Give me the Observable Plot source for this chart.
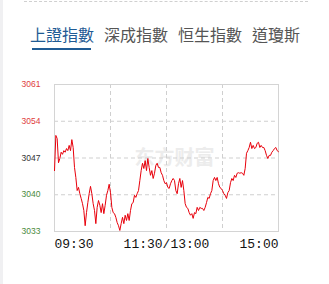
<!DOCTYPE html>
<html>
<head>
<meta charset="utf-8">
<script src="https://cdn.jsdelivr.net/npm/d3@7"></script>
<script src="https://cdn.jsdelivr.net/npm/@observablehq/plot@0.6"></script>
<style>
  html, body { margin: 0; padding: 0; background: #fff; width: 329px; height: 284px; overflow: hidden; position: relative; }
  #strip { position: absolute; left: 0; top: 0; width: 3px; height: 284px; background: #f0f0f2; }
  #topline { position: absolute; left: 24px; top: 1px; width: 284px; border-top: 1px dashed #d0d0d0; }
  #tabs { position: absolute; left: 30px; top: 22px; font-family: "Noto Sans CJK TC", "Noto Sans CJK SC", sans-serif; font-size: 16px; white-space: nowrap; }
  #tabs span { display: inline-block; margin-right: 10px; color: #555; line-height: 22px; }
  #tabs span.active { color: #1f5b94; position: relative; }
  #tabs span.active::after { content: ""; position: absolute; left: 2px; right: 3px; top: 25px; height: 2px; background: #1f5b94; }
  #chart { position: absolute; left: 0; top: 70px; }
</style>
</head>
<body>
<div id="strip"></div>
<div id="topline"></div>
<div id="tabs"></div>
<div id="chart"></div>
<script>
const tabNames = ["上證指數", "深成指數", "恒生指數", "道瓊斯"];
const yTicks = [3033, 3040, 3047, 3054, 3061];
const yTickColors = ["#4a8a3c", "#4a8a3c", "#333333", "#e03c3c", "#e03c3c"];
const xTickMinutes = [0, 120, 240];
const xTickLabels = ["09:30", "11:30/13:00", "15:00"];
const watermark = "东方财富";
// index level, roughly one reading per ~1.4 trading minutes from 09:30 to 15:00
const prices = [
  3044.6, 3051.3, 3050.7, 3046.1, 3046.9, 3048.1, 3047.7, 3048.4, 3048.1, 3048.8,
  3048.4, 3049.4, 3048.4, 3050.5, 3049.0, 3045.2, 3043.3, 3040.8, 3041.4, 3040.2,
  3039.3, 3038.3, 3037.0, 3034.1, 3036.6, 3038.5, 3040.2, 3041.6, 3040.2, 3038.3,
  3037.0, 3034.5, 3037.6, 3038.9, 3038.0, 3036.6, 3038.3, 3036.4, 3038.0, 3039.9,
  3040.8, 3042.0, 3040.4, 3037.6, 3036.6, 3036.4, 3035.7, 3034.7, 3034.1, 3033.2,
  3034.5, 3035.7, 3034.5, 3036.1, 3035.1, 3036.4, 3035.1, 3037.0, 3038.3, 3038.5,
  3039.9, 3039.5, 3040.2, 3040.8, 3042.7, 3044.6, 3046.0, 3045.0, 3046.5, 3044.6,
  3046.9, 3045.2, 3043.7, 3044.6, 3043.1, 3044.1, 3045.6, 3046.0, 3045.2, 3045.2,
  3044.2, 3043.7, 3042.7, 3042.1, 3042.3, 3041.4, 3041.2, 3042.1, 3042.7, 3043.1,
  3042.7, 3040.8, 3040.2, 3042.1, 3043.1, 3041.4, 3042.7, 3040.8, 3038.3, 3037.6,
  3037.4, 3036.6, 3036.1, 3036.4, 3035.5, 3036.6, 3036.4, 3037.6, 3037.0, 3037.6,
  3037.4, 3037.4, 3037.0, 3037.6, 3038.5, 3039.5, 3039.3, 3040.2, 3040.8, 3042.7,
  3043.3, 3042.7, 3043.3, 3042.1, 3041.4, 3041.2, 3040.8, 3040.2, 3039.9, 3039.3,
  3040.4, 3040.8, 3042.3, 3043.1, 3042.7, 3043.7, 3043.3, 3044.1, 3044.2, 3044.1,
  3044.2, 3044.1, 3043.7, 3045.0, 3047.9, 3048.4, 3049.0, 3050.0, 3048.8, 3049.4,
  3048.8, 3049.0, 3049.8, 3050.0, 3049.0, 3049.4, 3049.0, 3049.0, 3048.4, 3047.5,
  3046.9, 3047.5, 3047.5, 3048.1, 3048.4, 3048.8, 3049.0, 3048.4, 3048.2
];
const series = prices.map((v, i) => ({minute: i * 240 / (prices.length - 1), price: v}));
const xTicks = xTickMinutes.map((m, i) => ({minute: m, label: xTickLabels[i]}));
const yTickData = yTicks.map((v, i) => ({v, color: yTickColors[i]}));

const tabs = document.getElementById("tabs");
tabNames.forEach((n, i) => {
  const s = document.createElement("span");
  s.textContent = n;
  if (i === 0) s.className = "active";
  tabs.appendChild(s);
});

const xFont = {fontFamily: "'Liberation Mono', 'DejaVu Sans Mono', monospace", fontSize: 13, fill: "#111"};
const chart = Plot.plot({
  width: 329,
  height: 190,
  marginLeft: 54,
  marginRight: 51,
  marginTop: 14,
  marginBottom: 29,
  style: {background: "transparent", overflow: "visible"},
  x: {domain: [0, 240], axis: null},
  y: {domain: [3033, 3061], axis: null},
  marks: [
    Plot.text([watermark], {frameAnchor: "middle", dx: 8, dy: 1, fontSize: 20, fontWeight: "bold", fill: "#ececec", fontFamily: "'Noto Sans CJK SC', sans-serif"}),
    Plot.ruleX(xTickMinutes.slice(1, 2).concat([60, 180]), {stroke: "#cfcfcf", strokeDasharray: "4,3"}),
    Plot.ruleY(yTicks.slice(1, 4), {stroke: "#cfcfcf", strokeDasharray: "4,3"}),
    Plot.frame({stroke: "#d4d4d4"}),
    Plot.line(series, {x: "minute", y: "price", stroke: "#e8000b", strokeWidth: 1}),
    Plot.text(yTickData, {y: "v", text: d => String(d.v), fill: "color", frameAnchor: "left", dx: -14, textAnchor: "end", fontSize: 8.5, fontFamily: "'Liberation Sans', Arial, sans-serif"}),
    Plot.text(xTicks.filter((d, i) => i === 0), {x: "minute", text: "label", frameAnchor: "bottom", lineAnchor: "top", dy: 7, textAnchor: "start", ...xFont}),
    Plot.text(xTicks.filter((d, i) => i === 1), {x: "minute", text: "label", frameAnchor: "bottom", lineAnchor: "top", dy: 7, textAnchor: "middle", ...xFont}),
    Plot.text(xTicks.filter((d, i) => i === 2), {x: "minute", text: "label", frameAnchor: "bottom", lineAnchor: "top", dy: 7, textAnchor: "end", ...xFont})
  ]
});
document.getElementById("chart").appendChild(chart);
</script>
</body>
</html>
